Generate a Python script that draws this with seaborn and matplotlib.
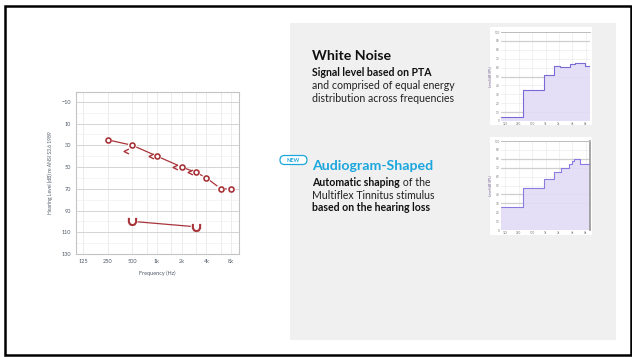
import numpy as np
import matplotlib.pyplot as plt
import seaborn as sns
from matplotlib.patches import Rectangle, FancyBboxPatch
from matplotlib.path import Path
from matplotlib.ticker import NullFormatter
from matplotlib.transforms import ScaledTranslation

# --- audiogram data (right ear) ---
freq_ticks = [125, 250, 500, 1000, 2000, 4000, 8000]
freq_labels = ['125', '250', '500', '1k', '2k', '4k', '8k']
ac_freqs = [250, 500, 1000, 2000, 3000, 4000, 6000, 8000]
ac_levels = [25, 30, 40, 50, 55, 60, 70, 70]
bc_freqs = [500, 1000, 2000, 3000]
bc_levels = [35, 40, 50, 55]
ucl_freqs = [500, 3000]
ucl_levels = [100, 105]
hl_ticks = [-10, 10, 30, 50, 70, 90, 110, 130]

# --- stimulus spectra (small panels) ---
wn_edges = [101, 314, 933, 1516, 2100, 3482, 4595, 7464, 9850]
wn_levels = [4.5, 35, 52, 62, 60.5, 64, 65, 62]
wn_ref = [90, 50, 10]
ag_edges = [101, 314, 933, 1516, 2219, 3363, 3900, 4300, 5860, 9850]
ag_levels = [26, 47, 57, 65, 70, 74, 77, 80, 74]
ag_ref = [80, 70, 40, 30]
spec_yticks = list(range(0, 101, 10))

RED = '#a8343a'
CYAN = '#1ba6de'
W, H = 632, 357

sns.set_theme(style='white')
plt.rcParams['font.family'] = ['Lato', 'DejaVu Sans']

fig = plt.figure(figsize=(6.32, 3.57), dpi=100)
fig.patch.set_facecolor('white')


def box(x0, y0, x1, y1):
    return [x0 / W, 1 - y1 / H, (x1 - x0) / W, (y1 - y0) / H]


# background layer in pixel coordinates
bg = fig.add_axes([0, 0, 1, 1], zorder=-5)
bg.set_xlim(0, W)
bg.set_ylim(H, 0)
bg.axis('off')
bg.add_patch(Rectangle((290, 23), 326, 317, facecolor='#f0f0f0', edgecolor='none'))
bg.add_patch(Rectangle((5, 6), 625.5, 349, facecolor='none', edgecolor='black', lw=1.8))
bg.add_patch(Rectangle((490, 27), 102, 98, facecolor='white', edgecolor='none'))
bg.add_patch(Rectangle((490, 137), 102, 98, facecolor='white', edgecolor='none'))

# --- audiogram ---
ax = fig.add_axes(box(76, 92, 239, 254))
ax.set_xscale('log', base=2)
ax.set_xlim(125 * 2 ** -0.28, 125 * 2 ** 6.32)
ax.set_ylim(130, -19)
ax.set_xticks(freq_ticks)
ax.set_xticklabels(freq_labels)
ax.set_xticks([750, 1500, 3000, 6000], minor=True)
ax.xaxis.set_minor_formatter(NullFormatter())
ax.set_yticks(hl_ticks)
ax.set_yticks(range(0, 121, 20), minor=True)
ax.yaxis.set_minor_formatter(NullFormatter())
ax.tick_params(axis='both', which='major', labelsize=4, colors='#c8c8c8',
               labelcolor='#4e5866', length=2, width=0.6, pad=1.5)
ax.tick_params(axis='both', which='minor', length=0)
ax.grid(axis='x', which='both', color='#ececec', lw=0.7)
ax.grid(axis='y', which='major', color='#d4d4d4', lw=0.7)
ax.grid(axis='y', which='minor', color='#f0f0f0', lw=0.5)
for s in ax.spines.values():
    s.set_color('#c4c4c4')
    s.set_linewidth(0.8)
ax.set_xlabel('Frequency (Hz)', fontsize=4, color='#4e5866', labelpad=5)
ax.set_ylabel('Hearing Level (dB) re ANSI S3.6 1989', fontsize=3.6, color='#4e5866', labelpad=6)

# air conduction line + open circles (white halo gives the gaps)
sns.lineplot(x=ac_freqs, y=ac_levels, ax=ax, color=RED, lw=0.9, estimator=None, zorder=3)
sns.scatterplot(x=ac_freqs, y=ac_levels, ax=ax, s=40, color='white', edgecolor='none',
                linewidth=0, zorder=4)
sns.scatterplot(x=ac_freqs, y=ac_levels, ax=ax, s=13, marker='o', facecolor='white',
                edgecolor=RED, linewidth=1.2, zorder=5)

# bone conduction '<', drawn just left of the frequency line
lt = Path([(1, 1), (-1, 0), (1, -1)], [Path.MOVETO, Path.LINETO, Path.LINETO])
shift = ax.transData + ScaledTranslation(-0.065, 0, fig.dpi_scale_trans)
ax.plot(bc_freqs, bc_levels, linestyle='none', marker=lt, ms=3.5, mfc='none', mec=RED,
        mew=1.0, transform=shift, zorder=6)

# UCL 'U'
sns.lineplot(x=ucl_freqs, y=ucl_levels, ax=ax, color=RED, lw=0.9, estimator=None, zorder=3)
sns.scatterplot(x=ucl_freqs, y=ucl_levels, ax=ax, s=60, color='white', edgecolor='none',
                linewidth=0, zorder=4)
cup = Path([(-1, 1), (-1, -0.2), (-0.6, -0.85), (0, -1), (0.6, -0.85), (1, -0.2), (1, 1)],
           [Path.MOVETO] + [Path.LINETO] * 6)
ax.plot(ucl_freqs, ucl_levels, linestyle='none', marker=cup, ms=5.2, mfc='none',
        mec=RED, mew=1.5, zorder=6)


# --- small spectrum panels ---
def spectrum(rect, edges, levels, refs, edge_color):
    a = fig.add_axes(rect)
    a.set_facecolor('white')
    a.set_xscale('log', base=2)
    a.set_xlim(edges[0], edges[-1])
    a.set_ylim(0, 100)
    y = list(levels) + [levels[-1]]
    a.fill_between(edges, y, step='post', color='#e2dcf6', alpha=0.9, lw=0, zorder=2)
    sns.lineplot(x=edges, y=y, ax=a, drawstyle='steps-post', color=edge_color, lw=0.8,
                 estimator=None, zorder=3)
    for r in refs:
        a.axhline(r, color='#cfcfcf', lw=0.9, zorder=1.5)
    a.set_xticks(freq_ticks)
    a.set_xticklabels(freq_labels)
    a.xaxis.set_minor_formatter(NullFormatter())
    a.set_yticks(spec_yticks)
    a.tick_params(labelsize=2.2, labelcolor='#777777', length=0, pad=1)
    a.tick_params(which='minor', length=0)
    a.grid(color='#ececec', lw=0.5)
    for s in a.spines.values():
        s.set_visible(False)
    a.spines['top'].set_visible(True)
    a.spines['top'].set_color('#bdbdbd')
    a.spines['top'].set_linewidth(0.7)
    a.set_ylabel('Level (dB SPL)', fontsize=2.4, color='#6d5a8c', labelpad=1.5)
    return a


spectrum(box(501, 32, 590, 121), wn_edges, wn_levels, wn_ref, '#7a6ad6')
a2 = spectrum(box(501, 141, 590, 230), ag_edges, ag_levels, ag_ref, '#8a7be0')
a2.spines['right'].set_visible(True)
a2.spines['right'].set_color('#9a9a9a')

# --- slide text ---
TS, BS = 10.2, 7.6
bg.text(312, 60, 'White Noise', fontsize=TS, fontweight='bold', color='#111111', va='baseline')
bg.text(312, 76, 'Signal level based on PTA', fontsize=BS, fontweight='bold', color='#111111', va='baseline')
bg.text(312, 89, 'and comprised of equal energy', fontsize=BS, color='#222222', va='baseline')
bg.text(312, 102, 'distribution across frequencies', fontsize=BS, color='#222222', va='baseline')

bg.add_patch(FancyBboxPatch((280, 155.5), 27, 9, boxstyle='round,pad=0,rounding_size=4.5',
                            facecolor='white', edgecolor=CYAN, lw=0.9))
bg.text(293.5, 160.3, 'NEW', fontsize=4, fontweight='bold', color=CYAN, ha='center', va='center')
bg.text(312, 170, 'Audiogram-Shaped', fontsize=TS, fontweight='bold', color=CYAN, va='baseline')

t1 = bg.text(312, 186, 'Automatic shaping', fontsize=BS, fontweight='bold', color='#111111', va='baseline')
bg.annotate(' of the', xy=(1, 0), xycoords=t1, fontsize=BS, color='#222222', va='bottom')
bg.text(312, 199, 'Multiflex Tinnitus stimulus', fontsize=BS, color='#222222', va='baseline')
bg.text(312, 211, 'based on the hearing loss', fontsize=BS, fontweight='bold', color='#111111', va='baseline')

plt.savefig('out.png', dpi=100)
